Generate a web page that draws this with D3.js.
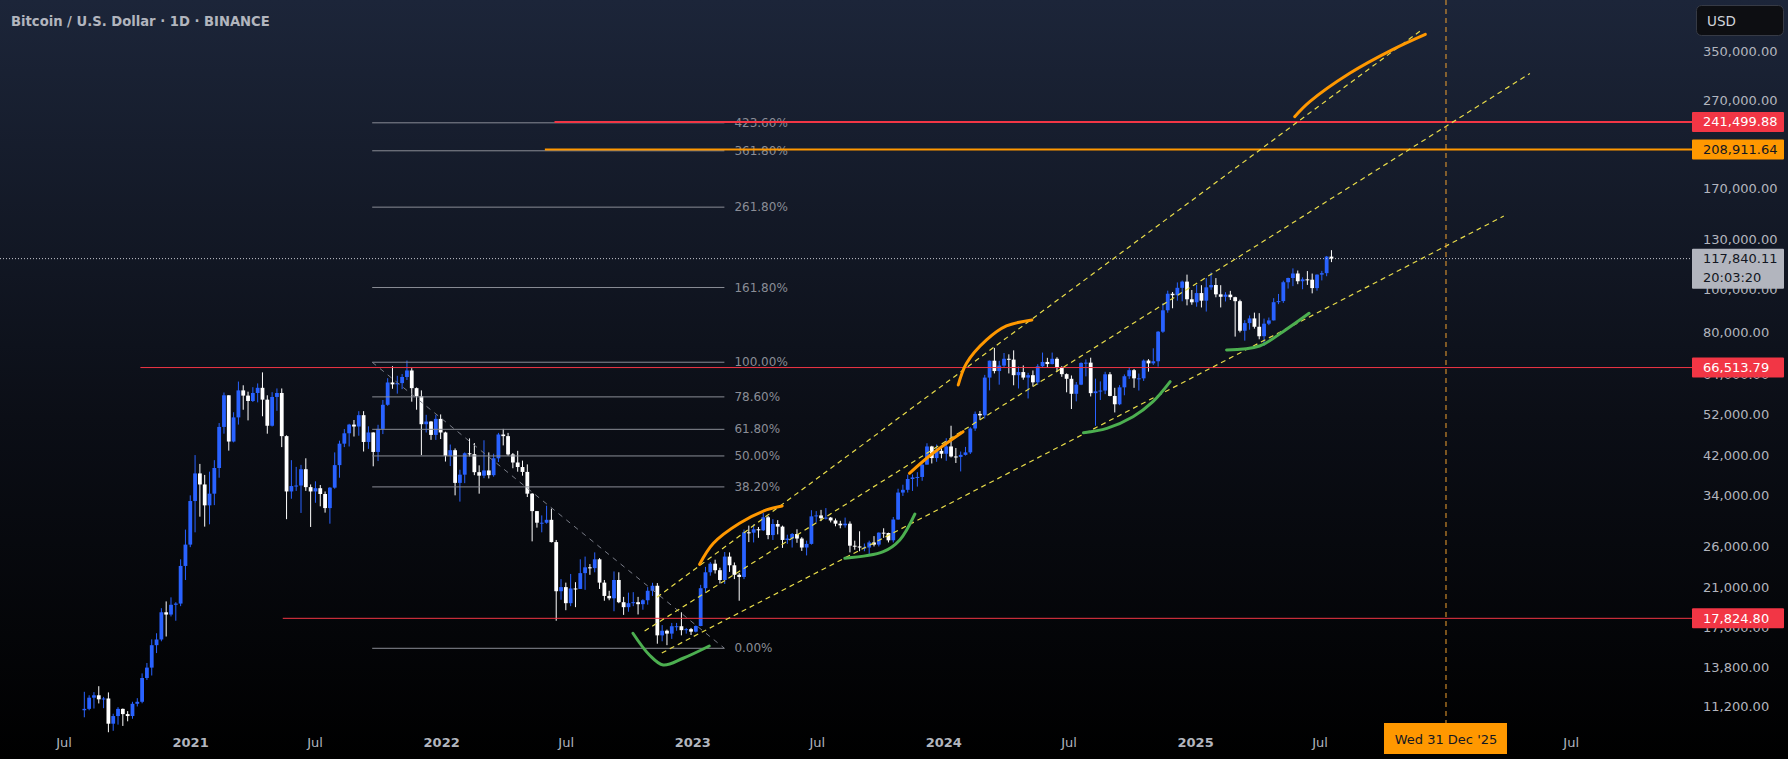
<!DOCTYPE html>
<html><head><meta charset="utf-8">
<script src="https://cdn.jsdelivr.net/npm/d3@7"></script>
<style>html,body{margin:0;padding:0;background:#000;} svg{display:block}</style>
</head><body>
<svg id="chart" width="1788" height="759"></svg>
<script>
// ---------------- DATA ----------------
const title = "Bitcoin / U.S. Dollar · 1D · BINANCE";
const firstWeek = "2020-07-27";
const firstOpen = 11000;
// weekly closes (Jul 2020 -> Jul 2025)
const closes = [
 // 2020
 11080,11750,11900,11650,11700,10250,10670,11080,10780,10670,11380,11500,13030,13760,15480,15950,18400,18180,19140,19260,23470,26250,33000,
 // 2021
 38150,36000,32260,34300,39250,48700,57500,45100,51200,59000,57400,55800,58200,59800,56200,49000,57000,58200,46400,34700,35700,35800,39000,35500,34700,35300,34240,31800,35400,39850,44600,47100,49300,48800,51800,45000,47300,42700,48200,54700,61500,60900,61300,63300,65500,59700,57200,49400,50100,46700,50800,47300,
 // 2022
 41850,43100,36300,37900,42400,42200,38400,37700,38750,37800,41300,46800,46400,42150,40400,39450,38450,34300,31300,29450,29450,29900,26600,20550,21000,19300,20850,20800,22600,23300,23200,24300,21500,20050,19800,21800,19400,18900,19300,19400,19200,19600,20600,21150,16300,16700,16450,17100,17100,16750,16840,16620,
 // 2023
 17120,20880,22700,23750,22950,21800,24650,23550,22400,22150,28000,27950,28450,28300,30300,27600,29250,28850,26900,27100,27750,27100,25850,26350,30450,30600,30150,30250,29800,29300,29050,29300,26100,26000,25850,25850,26550,26250,27950,27900,26850,29950,34500,35000,37050,37350,37450,39950,43950,41350,42950,42300,
 // 2024
 43950,41700,41600,42050,42600,48300,52150,51750,63100,68950,65300,67200,69650,69350,63900,64950,63100,63900,61550,66950,68500,67750,69650,66650,64250,62700,57950,60800,68150,68250,58150,58700,58950,64200,57300,54850,59950,63550,65600,62850,62850,69000,68000,68750,80300,89850,98000,97250,101100,104450,95200,93700,98350,
 // 2025
 94500,101350,102600,97700,96450,97550,96250,94250,80700,84000,86100,82400,78400,83750,85200,93750,94300,104100,106450,109000,104650,105700,105500,100950,108350,109200,119100,117840
];
const highs = [
 12120,11900,12100,12480,11800,12080,10800,11180,11100,10950,11500,11720,13350,14100,15960,16480,18800,19480,19900,19400,24300,28400,34000,
 42000,40100,37850,38500,40900,49700,58350,57500,52600,61800,60600,58600,60000,61200,64850,57500,58450,59600,59600,46600,40900,39480,39900,41300,36000,36600,35900,34700,35500,42600,45300,48150,49500,50500,52900,52900,48850,47350,49250,56100,62900,67000,63700,64300,69000,66300,59900,59000,51900,50200,51900,52000,
 47500,44400,43500,38900,42600,45850,44750,39800,45400,42600,42300,47200,48200,47200,42450,42950,40800,40000,34400,31300,30600,32200,31700,26900,21900,21500,22500,21550,24300,24650,23700,25200,24450,21800,20600,22800,22700,19950,20400,20450,19950,19700,21000,21480,21450,17200,16800,17400,17400,18400,16950,16950,
 17170,21250,23350,23950,24250,23250,25250,25200,23900,22600,28400,29000,29200,28800,31000,30500,30000,29850,29000,27650,27900,28450,27300,26800,31450,31300,31500,31800,30350,30100,29750,30250,29650,26800,28150,26400,26800,27450,28000,28600,27950,30350,35200,35950,37900,37950,38400,40000,44700,44100,44400,43800,
 45900,49000,43600,42800,43850,48600,52800,52950,64000,69000,73750,68900,71800,71300,72800,66900,67250,64700,65500,67700,71950,70000,71950,70200,67000,64500,63800,61650,68350,69400,70050,62750,61850,65050,64950,59800,60650,64150,66500,66000,64450,69400,69500,73600,80550,93300,99600,98900,104000,105000,108350,99950,102700,
 102500,106400,109600,106400,102500,98800,99500,96500,95000,85300,87450,88750,88500,86000,86500,95750,97900,104950,106650,111950,110700,106800,110400,108950,108500,110500,119500,123200
];
const lows = [
 10600,11000,11100,11400,11120,9800,9875,10200,10130,10380,10520,11220,11410,12900,13200,14850,15800,16200,18000,17600,19000,21800,25900,
 28000,30400,28850,29200,32300,37300,47000,43000,44900,49300,53300,50400,55500,55400,51500,47000,48800,53000,43800,30000,33400,34800,31000,34800,28800,32700,32100,31050,29300,35200,37300,43800,43950,46300,46500,42800,43400,39600,40700,46900,54400,59500,58000,59400,62300,55600,53300,42000,47300,45500,45500,45700,
 40600,39650,34000,32900,36250,41700,37800,34300,37200,37150,37500,40500,44200,41850,39200,38500,37700,33700,26700,28700,28000,29300,26550,17600,19650,18600,19000,18900,20800,20700,22400,22700,20800,19550,19600,18500,19300,18150,18450,19000,18190,18650,19150,20050,15600,15800,15480,16000,16700,16300,16450,16330,
 16550,17100,20400,22300,22550,21400,21350,22750,21900,19550,21900,26600,26550,27200,28200,27000,26900,27700,25800,26350,25850,26500,25400,24800,26250,29500,29700,29950,29500,28900,28600,28700,25200,25550,25350,25350,24900,26000,26000,27200,26550,26550,29900,33900,34500,34800,35600,36700,39950,40200,40550,41300,
 40750,41500,40300,38550,41900,42250,47700,50600,50900,59000,64500,60800,66350,64500,60600,59600,62400,56550,60200,60750,66600,66650,67600,65050,63350,58400,53500,55700,60650,63500,57150,49000,56100,57850,57200,52550,54600,57500,62650,59800,58950,62000,65100,67450,66850,79800,88700,90800,94500,94200,92200,92500,91550,
 91200,89250,100050,96200,91200,94100,94850,78250,80000,76600,81150,81600,77150,74500,83100,85150,92800,93400,100700,102000,103050,100350,102650,98200,99600,105100,107450,115700
];
const priceTicks = [11200,13800,17000,21000,26000,34000,42000,52000,64000,80000,100000,130000,170000,210000,270000,350000];
const timeTickDates = ["2020-07-01","2021-01-01","2021-07-01","2022-01-01","2022-07-01","2023-01-01","2023-07-01","2024-01-01","2024-07-01","2025-01-01","2025-07-01","2026-07-01"];
const timeTickLabels = ["Jul","2021","Jul","2022","Jul","2023","Jul","2024","Jul","2025","Jul","Jul"];

const fibLevels = [0, 0.382, 0.5, 0.618, 0.786, 1, 1.618, 2.618, 3.618, 4.236];
const fibLabels = ["0.00%","38.20%","50.00%","61.80%","78.60%","100.00%","161.80%","261.80%","361.80%","423.60%"];
const fibLow = 15230, fibHigh = 68400;
const fibStart = "2021-09-22", fibEnd = "2023-02-16";

const levelPrices = [241499.88, 208911.64, 66513.79, 17824.80];
const levelStarts = ["2022-06-14", "2022-05-31", "2020-10-20", "2021-05-15"];
const levelKinds  = ["red", "orange", "red", "red"];
const levelWidths = [2, 2, 1, 1];

const lastPrice = 117840.11;
const lastTime = "20:03:20";
const cursorDate = "2025-12-31";
const cursorLabel = "Wed 31 Dec '25";

const channelLines = [
  [["2022-11-10", 19907], ["2025-11-23", 389000]],
  [["2022-10-23", 16676], ["2026-05-02", 311600]],
  [["2022-11-17", 14860], ["2026-03-25", 147400]]
];
const greenArcs = [
  [["2022-10-06",16480],["2022-10-30",14705],["2022-11-19",13953],["2022-12-18",14454],["2023-01-25",15415]],
  [["2023-08-10",24430],["2023-10-05",25290],["2023-10-29",26890],["2023-11-20",30830]],
  [["2024-07-22",47240],["2024-08-25",48340],["2024-10-02",51380],["2024-10-31",55590],["2024-11-25",61760]],
  [["2025-02-15",72950],["2025-04-04",74500],["2025-05-08",80310],["2025-06-15",88430]]
];
const orangeArcs = [
  [["2023-01-11",23670],["2023-01-31",26430],["2023-03-10",29360],["2023-04-18",31490],["2023-05-11",32160]],
  [["2023-11-12",38180],["2023-12-16",42400],["2024-01-29",47500]],
  [["2024-01-22",60700],["2024-02-03",68030],["2024-03-03",76880],["2024-04-01",82750],["2024-05-08",85410]],
  [["2025-05-25",248300],["2025-06-16",268700],["2025-08-13",311900],["2025-10-15",353700],["2025-12-01",382700]]
];

// ---------------- STYLE ----------------
const W = 1788, H = 759;
const axisLeft = 1692;
const C = {
  up: "#2962ff", down: "#ffffff", text: "#b2b5be", fib: "#8a8d96", fibText: "#8a8d96",
  red: "#f23645", orange: "#ff9800", yellow: "#e8dc4a", green: "#4caf50"
};
const FONT = "'DejaVu Sans', sans-serif";

const parse = d3.utcParse("%Y-%m-%d");
const x = d3.scaleUtc().domain([parse("2021-01-01"), parse("2025-01-01")]).range([190.6, 1195.6]);
const y = d3.scaleLog().domain([10000, 100000]).range([728.4, 289.9]);

const svg = d3.select("#chart");
const defs = svg.append("defs");
const grad = defs.append("linearGradient").attr("id","bg").attr("x1",0).attr("y1",0).attr("x2",0).attr("y2",1);
grad.append("stop").attr("offset","0%").attr("stop-color","#1c2539");
grad.append("stop").attr("offset","55%").attr("stop-color","#0b0e16");
grad.append("stop").attr("offset","100%").attr("stop-color","#000000");
svg.append("rect").attr("width",W).attr("height",H).attr("fill","url(#bg)");

// ---------------- CANDLES ----------------
const week0 = parse(firstWeek);
const candles = closes.map((c,i)=>({
  t: d3.utcHour.offset(d3.utcDay.offset(week0, 7*i), 84),
  o: i === 0 ? firstOpen : closes[i-1], h: highs[i], l: lows[i], c
}));
const gC = svg.append("g");
gC.selectAll("line").data(candles).join("line")
  .attr("x1", d=>x(d.t)).attr("x2", d=>x(d.t))
  .attr("y1", d=>y(d.h)).attr("y2", d=>y(d.l))
  .attr("stroke", d=> d.c >= d.o ? C.up : C.down).attr("stroke-width",1);
gC.selectAll("rect").data(candles).join("rect")
  .attr("x", d=>x(d.t)-1.9).attr("width",3.8)
  .attr("y", d=>y(Math.max(d.o,d.c)))
  .attr("height", d=>Math.max(1, Math.abs(y(d.o)-y(d.c))))
  .attr("fill", d=> d.c >= d.o ? C.up : C.down);

// ---------------- FIB ----------------
const gF = svg.append("g");
const fx1 = x(parse(fibStart)), fx2 = x(parse(fibEnd));
fibLevels.forEach((lv,i)=>{
  const p = fibLow + lv*(fibHigh-fibLow);
  gF.append("line").attr("x1",fx1).attr("x2",fx2).attr("y1",y(p)).attr("y2",y(p))
    .attr("stroke",C.fib).attr("stroke-width",1);
  gF.append("text").attr("x",fx2+10).attr("y",y(p)).attr("dominant-baseline","central")
    .attr("font-family",FONT).attr("font-size",12).attr("fill",C.fibText).text(fibLabels[i]);
});
gF.append("line").attr("x1",fx1).attr("y1",y(fibHigh)).attr("x2",fx2).attr("y2",y(fibLow))
  .attr("stroke","#787b86").attr("stroke-width",1).attr("stroke-dasharray","5,5");

// ---------------- LEVEL LINES ----------------
levelPrices.forEach((p,i)=>{
  svg.append("line").attr("x1",x(parse(levelStarts[i]))).attr("x2",axisLeft)
    .attr("y1",y(p)).attr("y2",y(p))
    .attr("stroke", levelKinds[i]==="red"?C.red:C.orange).attr("stroke-width",levelWidths[i]);
});
// last price dotted line
svg.append("line").attr("x1",0).attr("x2",axisLeft).attr("y1",y(lastPrice)).attr("y2",y(lastPrice))
  .attr("stroke","#c8cad0").attr("stroke-width",1).attr("stroke-dasharray","1,2");

// ---------------- CHANNELS ----------------
const lineGen = d3.line().x(d=>x(parse(d[0]))).y(d=>y(d[1]));
channelLines.forEach(l=>{
  svg.append("path").attr("d",lineGen(l)).attr("fill","none")
    .attr("stroke",C.yellow).attr("stroke-width",1.2).attr("stroke-dasharray","5,4");
});
const arcGen = d3.line().x(d=>x(parse(d[0]))).y(d=>y(d[1])).curve(d3.curveCatmullRom.alpha(0.5));
greenArcs.forEach(a=>{
  svg.append("path").attr("d",arcGen(a)).attr("fill","none").attr("stroke",C.green)
    .attr("stroke-width",3).attr("stroke-linecap","round");
});
orangeArcs.forEach(a=>{
  svg.append("path").attr("d",arcGen(a)).attr("fill","none").attr("stroke",C.orange)
    .attr("stroke-width",3).attr("stroke-linecap","round");
});

// ---------------- CURSOR ----------------
const cx = x(parse(cursorDate));
svg.append("line").attr("x1",cx).attr("x2",cx).attr("y1",0).attr("y2",723)
  .attr("stroke","#f0a030").attr("stroke-width",1).attr("stroke-dasharray","5,4");

// ---------------- PRICE AXIS ----------------
const gY = svg.append("g");
priceTicks.forEach(t=>{
  gY.append("text").attr("x",1703).attr("y",y(t)).attr("dominant-baseline","central")
    .attr("font-family",FONT).attr("font-size",13).attr("fill",C.text)
    .text(d3.format(",.2f")(t));
});
function box(p, fill, color, lines){
  const yy = y(p);
  const h = lines.length > 1 ? 40 : 20;
  gY.append("rect").attr("x",axisLeft).attr("y",yy-10).attr("width",92).attr("height",h)
    .attr("fill",fill).attr("rx",1);
  lines.forEach((s,k)=>{
    gY.append("text").attr("x",1703).attr("y",yy+k*19).attr("dominant-baseline","central")
      .attr("font-family",FONT).attr("font-size",13).attr("fill",color).text(s);
  });
}
levelPrices.forEach((p,i)=>{
  const red = levelKinds[i]==="red";
  box(p, red?C.red:C.orange, red?"#ffffff":"#131722", [d3.format(",.2f")(p)]);
});
box(lastPrice, "#b2b5be", "#131722", [d3.format(",.2f")(lastPrice), lastTime]);

// USD button
svg.append("rect").attr("x",1696.5).attr("y",5.5).attr("width",87).attr("height",30).attr("rx",5)
  .attr("fill","#0d0e12").attr("stroke","#363a45");
svg.append("text").attr("x",1707).attr("y",21).attr("dominant-baseline","central")
  .attr("font-family",FONT).attr("font-size",13.5).attr("fill","#d1d4dc").text("USD");

// ---------------- TIME AXIS ----------------
timeTickDates.forEach((d,i)=>{
  const major = timeTickLabels[i] !== "Jul";
  svg.append("text").attr("x",x(parse(d))).attr("y",742).attr("text-anchor","middle")
    .attr("dominant-baseline","central").attr("font-family",FONT).attr("font-size",13)
    .attr("font-weight", major?"bold":"normal").attr("fill",C.text).text(timeTickLabels[i]);
});
svg.append("rect").attr("x",cx-62).attr("y",723).attr("width",123).attr("height",31).attr("fill",C.orange);
svg.append("text").attr("x",cx).attr("y",739).attr("text-anchor","middle").attr("dominant-baseline","central")
  .attr("font-family",FONT).attr("font-size",13).attr("fill","#131722").text(cursorLabel);

// ---------------- TITLE ----------------
const tt = svg.append("text").attr("x",11).attr("y",21).attr("dominant-baseline","central")
  .attr("font-family",FONT).attr("font-size",13).attr("font-weight","bold").attr("fill","#b2b5be").text(title);
const tw = tt.node().getComputedTextLength();
tt.attr("font-size", 13*259/tw);
</script>
</body></html>
